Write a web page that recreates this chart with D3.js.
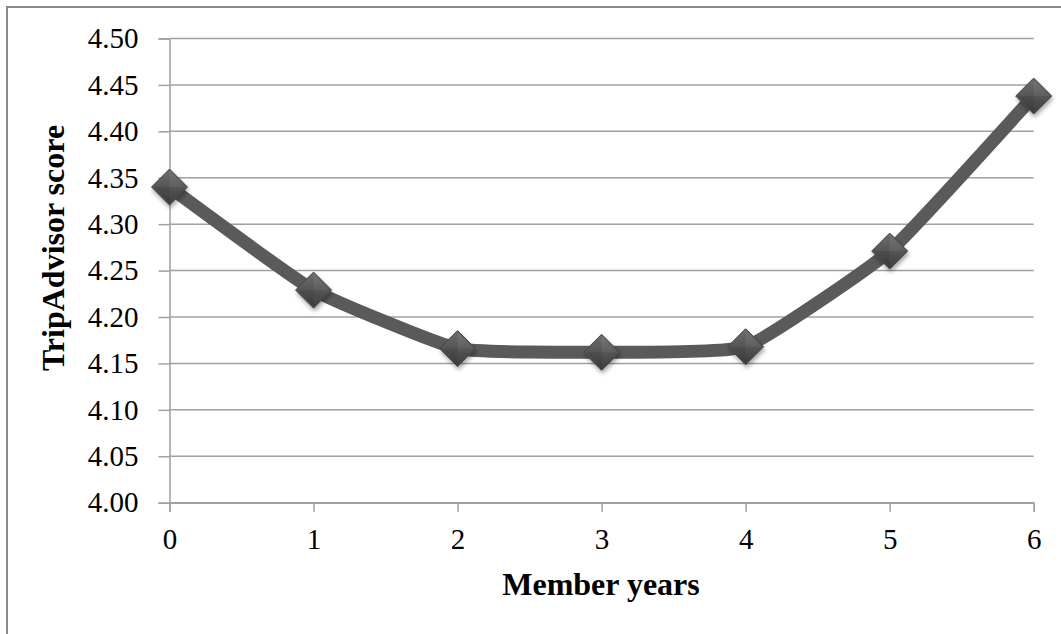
<!DOCTYPE html>
<html>
<head>
<meta charset="utf-8">
<script src="https://cdn.jsdelivr.net/npm/d3@7/dist/d3.min.js"></script>
<style>
  html, body { margin: 0; padding: 0; background: #fff; }
  svg { display: block; }
  svg text { font-family: "Liberation Serif", "Times New Roman", serif !important; fill: #000; }
</style>
</head>
<body>
<svg id="chart" width="1061" height="634"></svg>
<script>
// Average TripAdvisor score by years of membership
const memberYears = [0, 1, 2, 3, 4, 5, 6];
const scores = [4.340, 4.229, 4.166, 4.162, 4.168, 4.271, 4.438];
const yTicks = [4.00, 4.05, 4.10, 4.15, 4.20, 4.25, 4.30, 4.35, 4.40, 4.45, 4.50];

const serif = '"Liberation Serif", "Times New Roman", serif';
const svg = d3.select("#chart");

// outer frame
svg.append("rect")
  .attr("x", 7).attr("y", 7)
  .attr("width", 1070).attr("height", 640)
  .attr("fill", "none")
  .attr("stroke", "#8a8a8a")
  .attr("stroke-width", 2);

const x = d3.scaleLinear().domain([0, 6]).range([169.5, 1033.7]);
const y = d3.scaleLinear().domain([4.0, 4.5]).range([502.7, 38.5]);

const defs = svg.append("defs");
const grad = defs.append("linearGradient")
  .attr("id", "markerFill").attr("x1", 0).attr("y1", 0).attr("x2", 0).attr("y2", 1);
grad.append("stop").attr("offset", "0%").attr("stop-color", "#6e6e6e");
grad.append("stop").attr("offset", "50%").attr("stop-color", "#555555");
grad.append("stop").attr("offset", "100%").attr("stop-color", "#3c3c3c");

const shadow = defs.append("filter").attr("id", "shadow")
  .attr("x", "-50%").attr("y", "-50%").attr("width", "200%").attr("height", "200%");
shadow.append("feDropShadow")
  .attr("dx", 1).attr("dy", 3).attr("stdDeviation", 2)
  .attr("flood-color", "#000").attr("flood-opacity", 0.35);

// horizontal gridlines
svg.append("g")
  .selectAll("line")
  .data(yTicks)
  .join("line")
  .attr("x1", x(0)).attr("x2", x(6))
  .attr("y1", d => y(d)).attr("y2", d => y(d))
  .attr("stroke", "#a0a0a0")
  .attr("stroke-width", 1.5);

// y axis
const yAxis = svg.append("g")
  .attr("transform", `translate(${x(0)},0)`)
  .call(d3.axisLeft(y).tickValues(yTicks).tickFormat(d3.format(".2f")).tickSize(11).tickPadding(20));
yAxis.attr("font-family", null);
yAxis.select(".domain").attr("stroke", "#a0a0a0").attr("stroke-width", 1.5);
yAxis.selectAll(".tick line").attr("stroke", "#a0a0a0").attr("stroke-width", 1.5);
yAxis.selectAll("text")
  .style("font-family", serif)
  .attr("font-size", 29).attr("fill", "#000");

// x axis
const xAxis = svg.append("g")
  .attr("transform", `translate(0,${y(4.0)})`)
  .call(d3.axisBottom(x).tickValues(memberYears).tickFormat(d3.format("d")).tickSize(9).tickSizeOuter(9).tickPadding(17));
xAxis.attr("font-family", null);
xAxis.select(".domain").attr("stroke", "#a0a0a0").attr("stroke-width", 1.5);
xAxis.selectAll(".tick line").attr("stroke", "#a0a0a0").attr("stroke-width", 1.5);
xAxis.selectAll("text")
  .style("font-family", serif)
  .attr("font-size", 29).attr("fill", "#000");

// axis titles
svg.append("text")
  .attr("x", 601).attr("y", 595)
  .attr("text-anchor", "middle")
  .style("font-family", serif)
  .attr("font-size", 32).attr("font-weight", "bold")
  .text("Member years");

svg.append("text")
  .attr("transform", "translate(64,248) rotate(-90)")
  .attr("text-anchor", "middle")
  .style("font-family", serif)
  .attr("font-size", 32).attr("font-weight", "bold")
  .text("TripAdvisor score");

// lightly smoothed data line
const line = d3.line()
  .x((d, i) => x(memberYears[i]))
  .y(d => y(d))
  .curve(d3.curveCardinal.tension(0.6));

svg.append("path")
  .datum(scores)
  .attr("d", line)
  .attr("fill", "none")
  .attr("stroke", "#5a5a5a")
  .attr("stroke-width", 13)
  .attr("stroke-linejoin", "round");

// diamond markers
const r = 18;
const markers = svg.append("g")
  .selectAll("g")
  .data(scores)
  .join("g")
  .attr("transform", (d, i) => `translate(${x(memberYears[i])},${y(d)})`)
  .attr("filter", "url(#shadow)");

markers.append("path")
  .attr("d", `M0,${-r}L${r},0L0,${r}L${-r},0Z`)
  .attr("fill", "url(#markerFill)")
  .attr("stroke", "#444")
  .attr("stroke-width", 1);

// faint bevel shading on the faces
markers.append("path")
  .attr("d", `M0,${-r + 2}L${r - 2},0L0,0Z`)
  .attr("fill", "#fff").attr("opacity", 0.06);
markers.append("path")
  .attr("d", `M0,${r - 2}L${-r + 2},0L0,0Z`)
  .attr("fill", "#000").attr("opacity", 0.08);
</script>
</body>
</html>
